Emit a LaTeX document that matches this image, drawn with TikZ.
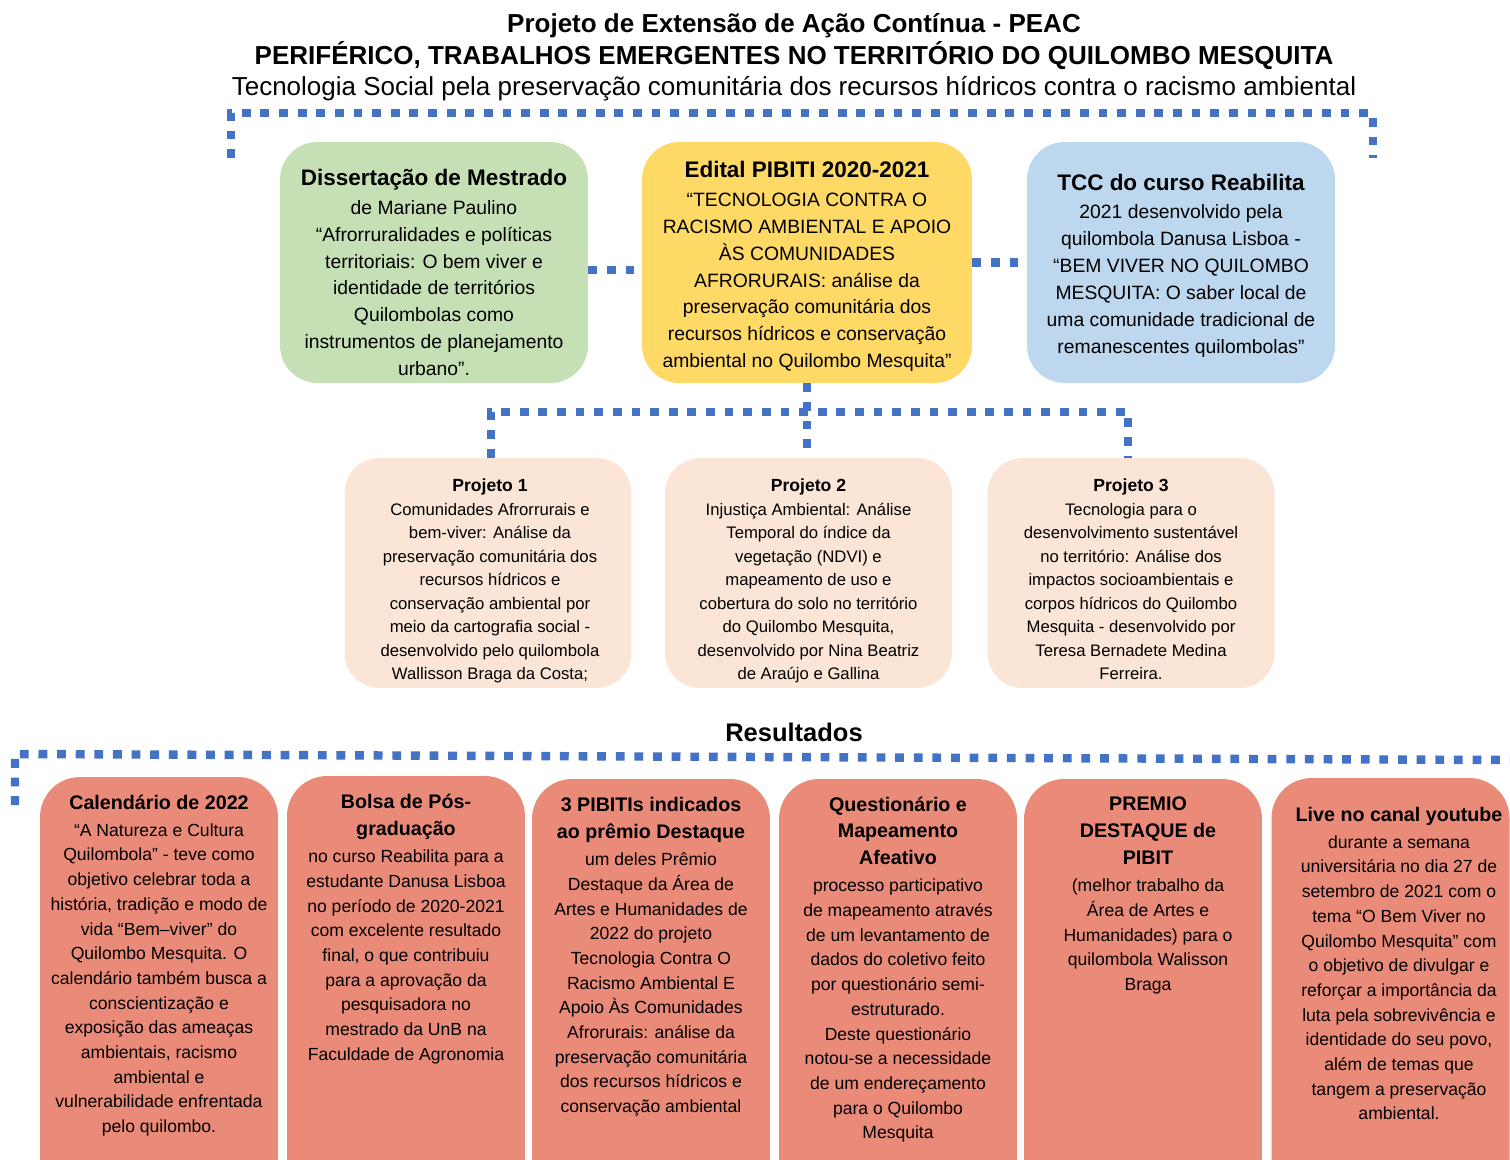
\documentclass[tikz,border=0pt]{standalone}
\usepackage{fontspec}
\setmainfont{Liberation Sans}
\usepackage{xcolor}
\definecolor{dotblue}{HTML}{4472C4}
\definecolor{mestgreen}{HTML}{C5E0B4}
\definecolor{editalyellow}{HTML}{FFD966}
\definecolor{tccblue}{HTML}{BDD7EE}
\definecolor{projpeach}{HTML}{FBE5D6}
\definecolor{ressalmon}{HTML}{EA8A78}

\newcommand{\toptitle}[1]{{\fontsize{12.8}{15.3}\selectfont\bfseries #1}}
\newcommand{\projtitle}[1]{{\fontsize{10}{13.4}\selectfont\bfseries #1}}
\newcommand{\restitle}[1]{{\fontsize{11.2}{15}\selectfont\bfseries #1}}

\tikzset{
    dotline/.style={draw=dotblue, line width=4.8pt, dash pattern=on 5pt off 5.6pt},
    topbox/.style={rectangle, rounded corners=0.75cm, minimum height=4.82cm, inner sep=0pt},
    projbox/.style={rectangle, rounded corners=0.7cm, fill=projpeach, minimum width=5.74cm, minimum height=4.6cm, inner sep=0pt},
    resbox/.style={rectangle, rounded corners=0.8cm, fill=ressalmon, minimum width=4.76cm, minimum height=8.6cm, inner sep=0pt},
    toptext/.style={align=center, inner sep=0pt, font=\fontsize{11}{15.3}\selectfont},
    projtext/.style={align=center, inner sep=0pt, font=\fontsize{9.5}{13.4}\selectfont},
    restext/.style={align=center, inner sep=0pt, font=\fontsize{10}{14.05}\selectfont}
}

\begin{document}
\begin{tikzpicture}[x=0.02cm, y=-0.02cm]
    \useasboundingbox (0,0) rectangle (1510,1159);

    \node[align=center, inner sep=0pt, font=\fontsize{14.8}{17.9}\selectfont] (heading) at (794,57.5) {
        \textbf{Projeto de Extensão de Ação Contínua - PEAC}\\
        \textbf{PERIFÉRICO, TRABALHOS EMERGENTES NO TERRITÓRIO DO QUILOMBO MESQUITA}\\
        Tecnologia Social pela preservação comunitária dos recursos hídricos contra o racismo ambiental
    };

    \coordinate (brL) at (231,158);
    \coordinate (brR) at (1373,158);
    \draw[dotline] (brL) |- (1373,113) -- (brR);

    % trabalhos de base
    \node[topbox, fill=mestgreen, minimum width=6.16cm] (dissert) at (434,262.5) {};
    \node[topbox, fill=editalyellow, minimum width=6.6cm] (edital) at (807,262.5) {};
    \node[topbox, fill=tccblue, minimum width=6.16cm] (tcc) at (1181,262.5) {};

    \node[toptext] (dissertT) at (434,272.5) {
        \toptitle{Dissertação de Mestrado}\\[1.1pt]
        de Mariane Paulino\\
        “Afrorruralidades e políticas\\
        territoriais: O bem viver e\\
        identidade de territórios\\
        Quilombolas como\\
        instrumentos de planejamento\\
        urbano”.
    };
    \node[toptext] (editalT) at (807,266.5) {
        \toptitle{Edital PIBITI 2020-2021}\\[1.1pt]
        “TECNOLOGIA CONTRA O\\
        RACISMO AMBIENTAL E APOIO\\
        ÀS COMUNIDADES\\
        AFRORURAIS: análise da\\
        preservação comunitária dos\\
        recursos hídricos e conservação\\
        ambiental no Quilombo Mesquita”
    };
    \node[toptext] (tccT) at (1181,265.5) {
        \toptitle{TCC do curso Reabilita}\\[1.1pt]
        2021 desenvolvido pela\\
        quilombola Danusa Lisboa -\\
        “BEM VIVER NO QUILOMBO\\
        MESQUITA: O saber local de\\
        uma comunidade tradicional de\\
        remanescentes quilombolas”
    };

    \draw[dotline] ([yshift=-0.15cm]dissert.east) -- ([yshift=-0.15cm]dissert.east -| edital.west);
    \draw[dotline] (edital.east) -- (tcc.west);

    % projetos
    \node[projbox] (proj1) at (488,573) {};
    \node[projbox] (proj2) at (808.5,573) {};
    \node[projbox] (proj3) at (1131,573) {};

    \node[projtext] (proj1T) at (490,581) {
        \projtitle{Projeto 1}\\
        Comunidades Afrorrurais e\\
        bem-viver: Análise da\\
        preservação comunitária dos\\
        recursos hídricos e\\
        conservação ambiental por\\
        meio da cartografia social -\\
        desenvolvido pelo quilombola\\
        Wallisson Braga da Costa;
    };
    \node[projtext] (proj2T) at (808.5,581) {
        \projtitle{Projeto 2}\\
        Injustiça Ambiental: Análise\\
        Temporal do índice da\\
        vegetação (NDVI) e\\
        mapeamento de uso e\\
        cobertura do solo no território\\
        do Quilombo Mesquita,\\
        desenvolvido por Nina Beatriz\\
        de Araújo e Gallina
    };
    \node[projtext] (proj3T) at (1131,579.5) {
        \projtitle{Projeto 3}\\
        Tecnologia para o\\
        desenvolvimento sustentável\\
        no território: Análise dos\\
        impactos socioambientais e\\
        corpos hídricos do Quilombo\\
        Mesquita - desenvolvido por\\
        Teresa Bernadete Medina\\
        Ferreira.
    };

    \coordinate (midbar) at (808,412);
    \draw[dotline] ([xshift=0.06cm]proj1.north) |- ([xshift=-0.06cm]proj3.north |- midbar) -- ([xshift=-0.06cm]proj3.north);
    \draw[dotline] (edital.south) -- (edital.south |- proj2.north);

    % resultados
    \node[font=\fontsize{14.5}{17}\selectfont\bfseries, inner sep=0pt] (resultados) at (794,732) {Resultados};
    \coordinate (resL) at (15,805);
    \draw[dotline] (resL) -- (15,754) -- (1510,760);

    \begin{scope}
        \clip (0,0) rectangle (1510,1159);
        \node[resbox] (calend) at (159,992) {};
        \node[resbox] (bolsa) at (406,991) {};
        \node[resbox] (pibitis) at (651,994) {};
        \node[resbox] (quest) at (898,994) {};
        \node[resbox] (premio) at (1143,994) {};
        \node[resbox] (live) at (1390.5,993) {};
    \end{scope}

    \node[restext] (calendT) at (159,965.5) {
        \restitle{Calendário de 2022}\\[1.3pt]
        “A Natureza e Cultura\\
        Quilombola” - teve como\\
        objetivo celebrar toda a\\
        história, tradição e modo de\\
        vida “Bem–viver” do\\
        Quilombo Mesquita. O\\
        calendário também busca a\\
        conscientização e\\
        exposição das ameaças\\
        ambientais, racismo\\
        ambiental e\\
        vulnerabilidade enfrentada\\
        pelo quilombo.
    };
    \node[restext] (bolsaT) at (406,929) {
        \restitle{Bolsa de Pós-}\\[1.3pt]
        \restitle{graduação}\\[1.3pt]
        no curso Reabilita para a\\
        estudante Danusa Lisboa\\
        no período de 2020-2021\\
        com excelente resultado\\
        final, o que contribuiu\\
        para a aprovação da\\
        pesquisadora no\\
        mestrado da UnB na\\
        Faculdade de Agronomia
    };
    \node[restext] (pibitisT) at (651,957) {
        \restitle{3 PIBITIs indicados}\\[1.3pt]
        \restitle{ao prêmio Destaque}\\[1.3pt]
        um deles Prêmio\\
        Destaque da Área de\\
        Artes e Humanidades de\\
        2022 do projeto\\
        Tecnologia Contra O\\
        Racismo Ambiental E\\
        Apoio Às Comunidades\\
        Afrorurais: análise da\\
        preservação comunitária\\
        dos recursos hídricos e\\
        conservação ambiental
    };
    \node[restext] (questT) at (898,969.5) {
        \restitle{Questionário e}\\[1.3pt]
        \restitle{Mapeamento}\\[1.3pt]
        \restitle{Afeativo}\\[1.3pt]
        processo participativo\\
        de mapeamento através\\
        de um levantamento de\\
        dados do coletivo feito\\
        por questionário semi-\\
        estruturado.\\
        Deste questionário\\
        notou-se a necessidade\\
        de um endereçamento\\
        para o Quilombo\\
        Mesquita
    };
    \node[restext] (premioT) at (1148,895.5) {
        \restitle{PREMIO}\\[1.3pt]
        \restitle{DESTAQUE de}\\[1.3pt]
        \restitle{PIBIT}\\[1.3pt]
        (melhor trabalho da\\
        Área de Artes e\\
        Humanidades) para o\\
        quilombola Walisson\\
        Braga
    };
    \node[restext] (liveT) at (1399,963.5) {
        \restitle{Live no canal youtube}\\[1.3pt]
        durante a semana\\
        universitária no dia 27 de\\
        setembro de 2021 com o\\
        tema “O Bem Viver no\\
        Quilombo Mesquita” com\\
        o objetivo de divulgar e\\
        reforçar a importância da\\
        luta pela sobrevivência e\\
        identidade do seu povo,\\
        além de temas que\\
        tangem a preservação\\
        ambiental.
    };
\end{tikzpicture}
\end{document}
